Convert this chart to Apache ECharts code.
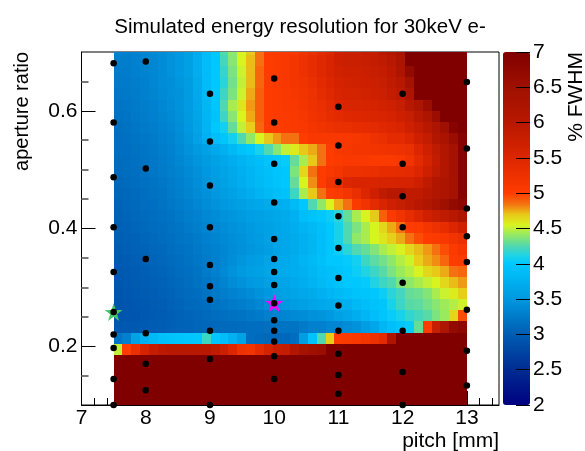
<!DOCTYPE html>
<html>
<head>
<meta charset="utf-8">
<style>html,body{margin:0;padding:0;background:#fff}#c{width:585px;height:451px}</style>
<script src="https://cdn.jsdelivr.net/npm/echarts@6/dist/echarts.min.js"></script>
</head>
<body>
<div id="c"></div>
<script>
var titleText = 'Simulated energy resolution for 30keV e-';
var xName = 'pitch [mm]', yName = 'aperture ratio', zName = '% FWHM';
var xLabels = [7,8,9,10,11,12,13];
var yLabels = [0.2,0.4,0.6];
var xMinor = [7.2,7.4,7.6,7.8,8.2,8.4,8.6,8.8,9.2,9.4,9.6,9.8,10.2,10.4,10.6,10.8,11.2,11.4,11.6,11.8,12.2,12.4,12.6,12.8,13.2,13.4];
var yMinor = [0.15,0.25,0.3,0.35,0.45,0.5,0.55,0.65];
var pitchBins = [7.569,7.706,7.844,7.981,8.119,8.256,8.394,8.531,8.669,8.806,8.944,9.081,9.219,9.356,9.494,9.631,9.769,9.906,10.044,10.181,10.319,10.456,10.594,10.731,10.869,11.006,11.144,11.281,11.419,11.556,11.694,11.831,11.969,12.106,12.244,12.381,12.519,12.656,12.794,12.931];
var pitchStep = 0.1375;
var ratioBins = [0.7041,0.6852,0.6664,0.6475,0.6286,0.6098,0.5909,0.5721,0.5532,0.5343,0.5155,0.4966,0.4777,0.4589,0.4400,0.4212,0.4023,0.3834,0.3646,0.3457,0.3268,0.3080,0.2891,0.2703,0.2514,0.2325,0.2137,0.1948,0.1759,0.1571,0.1382,0.1194,0.1005];
var ratioStep = 0.01886;
var saturated = [7,7,7,7,7,7,7,7,7,7,7,7,7,7,7,7,7,7,7,7,7,7,7,7,7,7,7,7,7,7,7,7,7,7,7,7,7,7,7,7];
var resolution = [
[3.30,3.30,3.32,3.35,3.38,3.40,3.45,3.50,3.58,3.72,3.88,4.00,4.25,4.40,4.55,4.70,4.85,5.00,5.05,5.10,5.10,5.20,5.30,5.40,5.50,5.70,5.75,5.75,5.85,5.85,6.00,6.10,6.30,7,7,7,7,7,7,7],
[3.28,3.28,3.30,3.33,3.36,3.40,3.45,3.50,3.58,3.72,3.88,4.00,4.22,4.38,4.55,4.72,4.85,5.00,5.05,5.10,5.15,5.25,5.35,5.45,5.55,5.70,5.75,5.75,5.80,5.85,5.90,6.00,6.25,7,7,7,7,7,7,7],
[3.26,3.27,3.30,3.33,3.36,3.40,3.45,3.50,3.58,3.72,3.88,4.00,4.18,4.35,4.52,4.72,4.88,5.00,5.05,5.10,5.15,5.25,5.35,5.45,5.55,5.65,5.70,5.72,5.75,5.80,5.85,5.95,6.20,6.70,7,7,7,7,7,7],
[3.25,3.25,3.28,3.31,3.35,3.40,3.43,3.48,3.55,3.70,3.88,4.00,4.15,4.33,4.50,4.72,4.88,5.00,5.05,5.10,5.15,5.20,5.30,5.42,5.50,5.60,5.65,5.68,5.70,5.75,5.80,5.90,6.00,6.40,7,7,7,7,7,7],
[3.22,3.24,3.27,3.30,3.34,3.38,3.42,3.46,3.54,3.68,3.85,4.00,4.20,4.35,4.52,4.75,4.90,5.00,5.03,5.08,5.12,5.18,5.25,5.38,5.45,5.55,5.60,5.62,5.65,5.70,5.75,5.85,5.95,6.20,7,7,7,7,7,7],
[3.20,3.22,3.25,3.28,3.32,3.36,3.40,3.45,3.53,3.66,3.82,3.98,4.25,4.45,4.60,4.78,4.90,5.00,5.03,5.08,5.10,5.15,5.22,5.30,5.40,5.50,5.55,5.55,5.58,5.60,5.65,5.70,5.80,6.00,6.20,6.60,7,7,7,7],
[3.18,3.20,3.24,3.27,3.30,3.34,3.38,3.44,3.52,3.64,3.80,3.95,4.20,4.38,4.55,4.75,4.90,5.00,5.03,5.06,5.08,5.12,5.20,5.28,5.35,5.40,5.45,5.48,5.50,5.52,5.55,5.60,5.70,5.80,6.00,6.20,6.60,7,7,7],
[3.16,3.18,3.22,3.25,3.28,3.32,3.36,3.42,3.50,3.62,3.78,4.00,4.08,4.30,4.50,4.68,4.88,5.00,5.03,5.05,5.08,5.10,5.15,5.20,5.25,5.30,5.32,5.35,5.38,5.40,5.45,5.50,5.55,5.70,5.85,6.00,6.20,6.50,6.90,7],
[3.15,3.17,3.20,3.23,3.26,3.30,3.34,3.40,3.48,3.60,3.75,3.90,3.98,4.08,4.25,4.40,4.55,4.70,4.78,4.85,4.85,5.00,5.10,5.10,5.10,5.10,5.10,5.12,5.15,5.25,5.30,5.40,5.40,5.50,5.70,5.85,6.10,6.30,6.60,6.90],
[3.15,3.16,3.18,3.21,3.24,3.28,3.32,3.38,3.45,3.52,3.60,3.68,3.75,3.85,3.95,4.00,4.10,4.25,4.38,4.50,4.58,4.70,4.75,4.85,5.00,5.10,5.12,5.15,5.15,5.18,5.20,5.22,5.25,5.30,5.50,5.70,5.90,6.10,6.40,6.90],
[3.13,3.15,3.17,3.20,3.23,3.27,3.31,3.36,3.42,3.48,3.54,3.60,3.66,3.72,3.78,3.84,3.90,3.96,4.00,4.03,4.30,4.45,4.70,4.85,5.00,5.05,5.10,5.10,5.08,5.05,5.05,5.05,5.10,5.20,5.40,5.60,5.85,6.10,6.40,6.90],
[3.12,3.14,3.16,3.19,3.22,3.25,3.29,3.33,3.38,3.44,3.50,3.56,3.62,3.68,3.74,3.80,3.86,3.92,3.96,4.00,4.35,4.65,4.85,5.00,5.10,5.15,5.25,5.25,5.28,5.30,5.35,5.35,5.38,5.40,5.50,5.70,5.90,6.10,6.40,6.90],
[3.10,3.12,3.14,3.17,3.20,3.23,3.27,3.31,3.36,3.42,3.48,3.54,3.60,3.66,3.72,3.78,3.84,3.90,3.95,4.00,4.30,4.55,4.80,5.00,5.20,5.30,5.50,5.55,5.55,5.55,5.58,5.58,5.60,5.60,5.70,5.90,6.10,6.20,6.40,6.90],
[3.08,3.10,3.12,3.15,3.18,3.21,3.25,3.29,3.34,3.39,3.44,3.50,3.55,3.60,3.66,3.72,3.78,3.84,3.90,3.95,4.20,4.45,4.70,4.85,5.00,5.05,5.15,5.30,5.50,5.70,5.90,6.00,6.00,5.90,5.90,6.00,6.10,6.20,6.40,6.90],
[3.06,3.08,3.11,3.14,3.16,3.19,3.23,3.27,3.31,3.36,3.41,3.46,3.50,3.54,3.58,3.62,3.66,3.70,3.72,3.75,3.85,4.00,4.25,4.40,4.55,4.75,4.85,5.05,5.20,5.40,5.55,5.70,5.80,5.90,6.00,6.15,6.30,6.50,6.70,6.80],
[3.05,3.07,3.10,3.12,3.15,3.17,3.20,3.24,3.28,3.32,3.37,3.41,3.45,3.48,3.52,3.56,3.60,3.64,3.67,3.70,3.75,3.90,3.95,4.00,4.05,4.15,4.30,4.45,4.55,4.70,4.90,5.05,5.20,5.35,5.50,5.70,5.80,5.90,6.00,6.20],
[3.03,3.05,3.08,3.10,3.13,3.15,3.18,3.21,3.25,3.29,3.33,3.37,3.40,3.44,3.48,3.52,3.56,3.60,3.64,3.68,3.72,3.78,3.84,3.92,4.00,4.10,4.25,4.35,4.45,4.55,4.65,4.75,4.85,5.00,5.05,5.15,5.25,5.35,5.50,5.70],
[3.02,3.03,3.05,3.08,3.11,3.13,3.16,3.19,3.22,3.26,3.30,3.34,3.38,3.42,3.46,3.50,3.54,3.58,3.62,3.66,3.70,3.75,3.82,3.90,3.98,4.10,4.25,4.40,4.45,4.55,4.60,4.68,4.75,4.85,4.95,5.00,5.05,5.10,5.20,5.30],
[3.00,3.02,3.04,3.06,3.09,3.11,3.14,3.17,3.20,3.24,3.28,3.32,3.36,3.40,3.44,3.48,3.52,3.57,3.62,3.66,3.70,3.76,3.82,3.90,3.98,4.05,4.15,4.25,4.30,4.37,4.45,4.50,4.56,4.65,4.72,4.78,4.85,4.95,5.05,5.15],
[2.98,3.00,3.02,3.04,3.07,3.09,3.12,3.15,3.18,3.22,3.26,3.30,3.36,3.42,3.48,3.53,3.57,3.62,3.66,3.68,3.72,3.78,3.85,3.92,4.00,4.00,4.02,4.08,4.20,4.28,4.33,4.40,4.47,4.53,4.68,4.75,4.80,4.88,5.00,5.05],
[2.96,2.98,3.00,3.02,3.05,3.07,3.10,3.13,3.16,3.20,3.25,3.30,3.38,3.45,3.52,3.57,3.60,3.64,3.68,3.70,3.72,3.76,3.82,3.88,3.92,3.95,4.00,4.05,4.12,4.20,4.27,4.35,4.42,4.48,4.55,4.65,4.70,4.75,4.85,4.88],
[2.95,2.97,2.99,3.01,3.03,3.05,3.08,3.11,3.14,3.18,3.22,3.27,3.33,3.40,3.46,3.50,3.54,3.58,3.62,3.64,3.68,3.72,3.78,3.84,3.90,3.95,4.00,4.00,4.02,4.12,4.20,4.25,4.35,4.40,4.45,4.50,4.55,4.65,4.72,4.78],
[2.93,2.95,2.97,2.99,3.01,3.03,3.06,3.09,3.12,3.15,3.19,3.24,3.28,3.32,3.36,3.40,3.45,3.50,3.55,3.60,3.62,3.66,3.70,3.75,3.80,3.85,3.90,3.95,3.97,4.00,4.05,4.15,4.22,4.30,4.32,4.37,4.45,4.52,4.58,4.68],
[2.92,2.93,2.95,2.97,2.99,3.01,3.04,3.07,3.10,3.12,3.15,3.19,3.22,3.25,3.28,3.32,3.36,3.42,3.46,3.50,3.55,3.58,3.62,3.66,3.70,3.72,3.75,3.85,3.90,3.95,3.98,4.10,4.20,4.27,4.28,4.33,4.38,4.43,4.47,4.53],
[2.92,2.93,2.94,2.96,2.98,3.00,3.02,3.05,3.07,3.09,3.11,3.14,3.16,3.18,3.20,3.23,3.26,3.29,3.32,3.35,3.38,3.41,3.44,3.47,3.50,3.60,3.65,3.72,3.80,3.90,3.97,4.03,4.10,4.17,4.22,4.27,4.35,4.42,4.65,4.95],
[2.95,2.96,2.97,2.98,3.00,3.01,3.03,3.05,3.06,3.08,3.09,3.10,3.11,3.12,3.13,3.14,3.15,3.16,3.18,3.20,3.20,3.25,3.30,3.30,3.35,3.35,3.40,3.45,3.55,3.65,3.80,3.90,3.97,4.03,4.30,5.00,5.80,6.20,6.70,6.80],
[3.20,3.30,3.60,3.75,3.85,3.92,3.95,3.97,3.98,4.00,4.20,4.00,3.88,3.75,3.60,3.15,3.12,3.10,3.10,3.10,3.15,3.55,3.95,4.25,4.68,5.00,5.05,5.10,5.15,5.25,5.40,6.20,7,7,7,7,7,7,7,7],
[4.50,5.00,5.30,5.60,5.85,5.95,6.00,6.00,6.00,6.00,6.00,5.90,5.75,5.50,5.25,5.20,5.40,5.60,5.80,5.85,6.10,6.40,6.50,6.60,7,7,7,7,7,7,7,7,7,7,7,7,7,7,7,7],
saturated, saturated, saturated, saturated, saturated
];
var scanPoints = [
[7.5,0.681],[7.5,0.58],[7.5,0.487],[7.5,0.402],[7.5,0.326],[7.5,0.258],[7.5,0.22],[7.5,0.197],[7.5,0.144],[7.5,0.1],
[8,0.684],[8,0.502],[8,0.348],[8,0.222],[8,0.17],[8,0.125],
[9,0.629],[9,0.548],[9,0.473],[9,0.402],[9,0.338],[9,0.302],[9,0.279],[9,0.226],[9,0.178],[9,0.1],
[10,0.655],[10,0.58],[10,0.51],[10,0.444],[10,0.382],[10,0.348],[10,0.326],[10,0.304],[10,0.273],[10,0.244],[10,0.226],[10,0.208],[10,0.183],[10,0.144],
[11,0.607],[11,0.541],[11,0.479],[11,0.421],[11,0.367],[11,0.316],[11,0.269],[11,0.226],[11,0.187],[11,0.151],[11,0.119],
[12,0.629],[12,0.51],[12,0.455],[12,0.402],[12,0.308],[12,0.226],[12,0.156],[12,0.1],
[13,0.649],[13,0.536],[13,0.434],[13,0.387],[13,0.343],[13,0.262],[13,0.192],[13,0.133]
];
var greenStar = [[7.5,0.258]];
var magentaStar = [[10,0.273]];
var colorAnchors = [[2,'#000080'],[2.5,'#002c92'],[3,'#005cb2'],[3.5,'#0098e0'],[4,'#00c8ff'],[4.1,'#18d2ec'],[4.25,'#50d8b0'],[4.4,'#90e868'],[4.55,'#d8f420'],[4.7,'#e8c818'],[4.85,'#f57010'],[5,'#ff3c00'],[5.5,'#dc2600'],[6,'#b81800'],[6.5,'#a01000'],[7,'#800000']];

function buildRamp(){
  var out=[];
  for(var k=0;k<=100;k++){
    var v=2+k*0.05, i=0;
    while(i<colorAnchors.length-2 && v>colorAnchors[i+1][0]) i++;
    var a=colorAnchors[i], b=colorAnchors[i+1];
    var t=Math.min(1,Math.max(0,(v-a[0])/(b[0]-a[0])));
    out.push(echarts.color.lerp(t,[a[1],b[1]]));
  }
  return out;
}
var cells=[];
resolution.forEach(function(row,r){row.forEach(function(v,c){cells.push([pitchBins[c],ratioBins[r],v]);});});

var font='"Liberation Sans", Arial, sans-serif';
var star='path://M50 0 L61.8 35.5 L99 35.5 L69 57.6 L80.3 93 L50 71.3 L19.7 93 L31 57.6 L1 35.5 L38.2 35.5 Z';
var chart=echarts.init(document.getElementById('c'),null,{renderer:'canvas'});
chart.setOption({
  animation:false,
  backgroundColor:'#fff',
  title:{text:titleText,left:295,top:12,textAlign:'center',textStyle:{fontFamily:font,fontSize:20.5,fontWeight:'normal',color:'#000'}},
  graphic:[{type:'text',x:576,y:52,rotation:Math.PI/2,silent:true,
    style:{text:zName,fill:'#000',font:'21px "Liberation Sans", Arial, sans-serif',textAlign:'right',textVerticalAlign:'middle'}}],
  grid:[
    {left:81.5,top:52,width:417.5,height:353,show:true,borderColor:'#000',borderWidth:1,backgroundColor:'transparent',outerBoundsMode:'none',containLabel:false},
    {left:503,top:52,width:27,height:353,show:false,outerBoundsMode:'none',containLabel:false},
    {left:81.5,top:52,width:417.5,height:353,show:false,outerBoundsMode:'none',containLabel:false}
  ],
  xAxis:[
    {type:'value',gridIndex:0,min:7,max:13.5,position:'bottom',
     name:xName,nameLocation:'end',nameGap:0,nameMoveOverlap:false,nameTextStyle:{fontFamily:font,fontSize:21,color:'#000',align:'right',verticalAlign:'top',padding:[26,0,0,0]},
     axisLine:{show:true,onZero:false,lineStyle:{color:'#000'}},
     axisTick:{show:true,inside:true,length:14,customValues:xLabels,lineStyle:{color:'#000'}},
     axisLabel:{customValues:xLabels,margin:3,fontFamily:font,fontSize:21,color:'#000'},splitLine:{show:false}},
    {type:'value',gridIndex:1,min:0,max:1,show:false,axisLine:{onZero:false}},
    {type:'value',gridIndex:2,min:7,max:13.5,position:'bottom',
     axisLine:{show:false,onZero:false},axisTick:{show:true,inside:true,length:7,customValues:xMinor,lineStyle:{color:'#000'}},
     axisLabel:{show:false},splitLine:{show:false}}
  ],
  yAxis:[
    {type:'value',gridIndex:0,min:0.1,max:0.7,position:'left',
     name:yName,nameLocation:'end',nameGap:0,nameMoveOverlap:false,nameRotate:90,nameTextStyle:{fontFamily:font,fontSize:20,color:'#000',align:'right',verticalAlign:'bottom',padding:[0,0,49,0]},
     axisLine:{show:true,onZero:false,lineStyle:{color:'#000'}},
     axisTick:{show:true,inside:true,length:14,customValues:yLabels,lineStyle:{color:'#000'}},
     axisLabel:{customValues:yLabels,margin:4,fontFamily:font,fontSize:21,color:'#000',formatter:function(v){return v.toFixed(1);}},splitLine:{show:false}},
    {type:'value',gridIndex:1,min:2,max:7,interval:0.5,position:'right',z:20,
     axisLine:{show:false,onZero:false},
     axisTick:{show:true,inside:true,length:14,lineStyle:{color:'#000'}},
     axisLabel:{margin:3,fontFamily:font,fontSize:21,color:'#000'},splitLine:{show:false}},
    {type:'value',gridIndex:2,min:0.1,max:0.7,position:'left',
     axisLine:{show:false,onZero:false},axisTick:{show:true,inside:true,length:7,customValues:yMinor,lineStyle:{color:'#777',width:2}},
     axisLabel:{show:false},splitLine:{show:false}}
  ],
  visualMap:{type:'continuous',seriesIndex:0,dimension:2,min:2,max:7,left:503,top:52,itemWidth:27,itemHeight:353,z:1,
    calculable:false,text:['',''],showLabel:false,padding:0,borderWidth:0,hoverLink:false,
    inRange:{color:buildRamp()}},
  series:[
    {type:'custom',name:'resolution',xAxisIndex:0,yAxisIndex:0,data:cells,encode:{x:0,y:1},z:2,silent:true,
     renderItem:function(params,api){
       var p=api.coord([api.value(0)-pitchStep/2,api.value(1)+ratioStep/2]);
       var s=api.size([pitchStep,ratioStep]);
       var cs=params.coordSys;
       var x0=Math.round(p[0]),y0=Math.round(p[1]);
       var x1=Math.round(p[0]+s[0]),y1=Math.round(p[1]+s[1]);
       var rect=echarts.graphic.clipRectByRect({x:x0,y:y0,width:x1-x0,height:y1-y0},{x:cs.x,y:cs.y,width:cs.width,height:cs.height});
       return rect&&{type:'rect',shape:rect,style:{fill:api.visual('color')}};
     }},
    {type:'scatter',name:'best',xAxisIndex:0,yAxisIndex:0,data:greenStar,symbol:star,symbolSize:18,clip:false,z:4,silent:true,
     itemStyle:{color:'#45c765',opacity:1}},
    {type:'scatter',name:'chosen',xAxisIndex:0,yAxisIndex:0,data:magentaStar,symbol:star,symbolSize:18,clip:false,z:4,silent:true,
     itemStyle:{color:'#ff00ff',opacity:1}},
    {type:'scatter',name:'scan',xAxisIndex:0,yAxisIndex:0,data:scanPoints,symbol:'circle',symbolSize:6.5,clip:false,z:5,silent:true,
     itemStyle:{color:'#000',opacity:1}}
  ]
});
</script>
</body>
</html>
